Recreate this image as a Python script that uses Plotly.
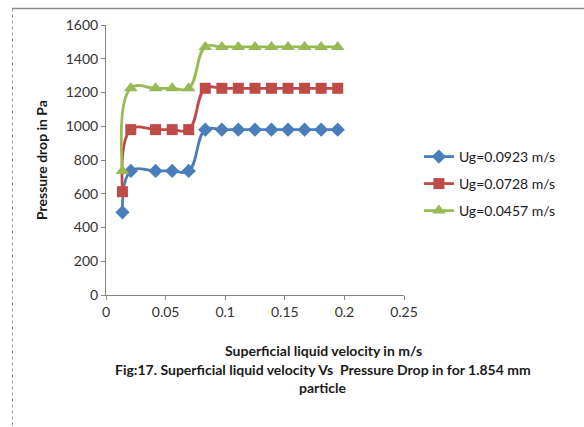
import plotly.graph_objects as go

# Data
velocity = [0.0138, 0.0208, 0.0416, 0.0555, 0.0694, 0.0833, 0.0972, 0.111,
            0.125, 0.1388, 0.1527, 0.1666, 0.1805, 0.1944]
dp_ug_0923 = [490, 735, 735, 735, 735, 980, 980, 980, 980, 980, 980, 980, 980, 980]
dp_ug_0728 = [612, 980, 980, 980, 980, 1225, 1225, 1225, 1225, 1225, 1225, 1225, 1225, 1225]
dp_ug_0457 = [735, 1225, 1225, 1225, 1225, 1470, 1470, 1470, 1470, 1470, 1470, 1470, 1470, 1470]
series_names = ["Ug=0.0923 m/s", "Ug=0.0728 m/s", "Ug=0.0457 m/s"]
x_ticks = [0, 0.05, 0.1, 0.15, 0.2, 0.25]
y_ticks = [0, 200, 400, 600, 800, 1000, 1200, 1400, 1600]

FONT = "Lato, 'Open Sans', sans-serif"
colors = ["#4A7EBB", "#BE4B48", "#98B954"]
symbols = ["diamond", "square", "triangle-up"]
msizes = [11, 11, 12]
legends = ["legend2", "legend3", "legend4"]
legend_rows_px = [157, 184, 211]

fig = go.Figure()
for ys, name, c, s, ms, lg in zip([dp_ug_0923, dp_ug_0728, dp_ug_0457], series_names,
                                  colors, symbols, msizes, legends):
    fig.add_trace(go.Scatter(
        x=velocity, y=ys, name=name, mode="lines+markers",
        line=dict(color=c, width=2.8, shape="spline", smoothing=1.2),
        marker=dict(symbol=s, size=ms, color=c, line=dict(width=0)),
        legend=lg, showlegend=True,
    ))

leg_common = dict(font=dict(family=FONT, size=14, color="#1a1a1a"),
                  bgcolor="rgba(0,0,0,0)", xanchor="left", yanchor="middle",
                  itemwidth=30, x=1.05, visible=True)
layout_legends = {lg: dict(**leg_common, y=(295 - py) / 270)
                  for lg, py in zip(legends, legend_rows_px)}

fig.update_layout(
    width=584, height=427,
    margin=dict(l=106, r=180, t=25, b=132),
    paper_bgcolor="white", plot_bgcolor="white",
    font=dict(family=FONT, size=14, color="#404040"),
    showlegend=True,
    **layout_legends,
    xaxis=dict(range=[0, 0.25], tickvals=x_ticks, ticktext=[str(v) for v in x_ticks],
               showgrid=False, zeroline=False, showline=True, linecolor="#868686",
               linewidth=1, ticks="outside", ticklen=4, tickcolor="#868686",
               tickfont=dict(family=FONT, size=14, color="#333333")),
    yaxis=dict(range=[0, 1600], tickvals=y_ticks, showgrid=False, zeroline=False,
               showline=True, linecolor="#868686", linewidth=1, ticks="outside",
               ticklen=4, tickcolor="#868686",
               tickfont=dict(family=FONT, size=14, color="#333333")),
)

ann_font = dict(family=FONT, size=14, color="#1a1a1a")
def px_x(p):
    return (p - 106) / 298
def px_y(p):
    return (295 - p) / 270

# Axis titles and caption
fig.add_annotation(text="<b>Pressure drop in Pa</b>", textangle=-90,
                   xref="paper", yref="paper", x=px_x(41), y=px_y(160),
                   xanchor="center", yanchor="middle", showarrow=False, font=ann_font)
fig.add_annotation(text="<b>Superficial liquid velocity in m/s</b>",
                   xref="paper", yref="paper", x=px_x(323), y=px_y(350),
                   xanchor="center", yanchor="middle", showarrow=False, font=ann_font)
fig.add_annotation(text="<b>Fig:17. Superficial liquid velocity Vs  Pressure Drop in for 1.854 mm</b>",
                   xref="paper", yref="paper", x=px_x(323), y=px_y(369),
                   xanchor="center", yanchor="middle", showarrow=False, font=ann_font)
fig.add_annotation(text="<b>particle</b>",
                   xref="paper", yref="paper", x=px_x(323), y=px_y(387),
                   xanchor="center", yanchor="middle", showarrow=False, font=ann_font)

# Chart-area border (top solid, left dotted)
fig.add_shape(type="line", xref="paper", yref="paper",
              x0=px_x(12), x1=px_x(584), y0=px_y(8.5), y1=px_y(8.5),
              line=dict(color="#8a8a8a", width=1.5))
fig.add_shape(type="line", xref="paper", yref="paper",
              x0=px_x(12.5), x1=px_x(12.5), y0=px_y(8.5), y1=px_y(427),
              line=dict(color="#9a9a9a", width=1, dash="dot"))

fig.write_html("out.html")
